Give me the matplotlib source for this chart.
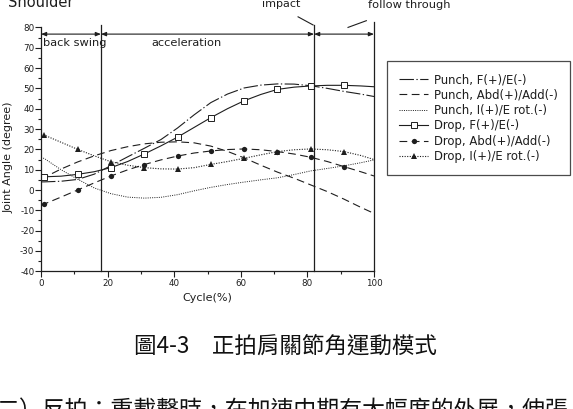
import matplotlib
matplotlib.use("Agg")
import matplotlib.pyplot as plt
from matplotlib.ticker import MultipleLocator

plt.rcParams['axes.unicode_minus'] = False
plt.rcParams['font.family'] = ['DejaVu Sans']

# cycle positions (%) where values were read; markers sit at 1, 11, ..., 91
cycle = [0, 1, 6, 11, 16, 21, 26, 31, 36, 41, 46, 51, 56, 61, 66, 71, 76, 81, 86, 91, 96, 100]

punch_fe = [4.0, 4.0, 4.3, 5.2, 7.8, 12.0, 16.3, 20.5, 24.8, 30.5, 37.0, 43.0, 47.2, 50.2, 51.6, 52.2,
            52.1, 51.3, 50.0, 48.5, 47.2, 46.0]
punch_abd = [5.5, 6.2, 10.3, 13.8, 16.8, 19.4, 21.3, 22.7, 23.5, 23.7, 23.2, 21.6, 19.0, 15.8, 12.2, 8.8,
             5.8, 2.5, -0.8, -4.5, -8.5, -11.5]
punch_ie = [16.0, 15.5, 10.0, 5.3, 1.0, -1.8, -3.5, -4.0, -3.6, -2.3, -0.4, 1.3, 2.7, 3.9, 5.0, 6.0,
            7.6, 9.4, 10.6, 11.9, 13.4, 14.8]
drop_fe = [6.0, 6.5, 6.8, 7.7, 9.0, 11.0, 14.0, 17.7, 21.7, 26.0, 30.8, 35.6, 40.0, 43.9, 47.0, 49.5,
           50.6, 51.2, 51.5, 51.5, 51.2, 50.8]
drop_abd = [-7.5, -6.9, -3.5, 0.0, 3.5, 6.9, 9.9, 12.5, 14.8, 16.7, 18.2, 19.2, 19.9, 20.2, 19.8, 18.9,
            17.7, 16.1, 14.0, 11.5, 9.0, 6.9]
drop_ie = [27.5, 27.0, 23.5, 20.0, 16.8, 13.9, 12.2, 11.0, 10.4, 10.3, 11.0, 12.6, 14.0, 15.6, 17.3, 18.9,
           19.8, 20.2, 19.8, 18.9, 17.0, 15.0]

labels = ["Punch, F(+)/E(-)", "Punch, Abd(+)/Add(-)", "Punch, I(+)/E rot.(-)",
          "Drop, F(+)/E(-)", "Drop, Abd(+)/Add(-)", "Drop, I(+)/E rot.(-)"]

phase_bounds = [0, 18, 82, 100]
phase_names = ["back swing", "acceleration"]
phase_text_x = [0.6, 33.2]

caption = "圖4-3　正拍肩關節角運動模式"
body_line = "二）反拍：重載擊時，在加速中期有大幅度的外展，伸張"

INK = '#1e1e1e'
LW = 0.8

fig = plt.figure(figsize=(5.73, 4.09), dpi=100)
ax = fig.add_axes([41 / 573, 1 - 271.3 / 409, 333 / 573, 243.9 / 409])

every = slice(1, 20, 2)
ax.plot(cycle, punch_fe, color=INK, lw=LW, dashes=(13, 2.2, 1.2, 2.2), label=labels[0])
ax.plot(cycle, punch_abd, color=INK, lw=LW, dashes=(7, 4), label=labels[1])
ax.plot(cycle, punch_ie, color=INK, lw=0.7, dashes=(1, 1.3), label=labels[2])
ax.plot(cycle, drop_fe, color=INK, lw=LW, marker='s', ms=3.8, mfc='white', mew=0.7,
        markevery=every, label=labels[3])
ax.plot(cycle, drop_abd, color=INK, lw=LW, dashes=(7, 4), marker='o', ms=3.8, mew=0,
        markevery=every, label=labels[4])
ax.plot(cycle, drop_ie, color=INK, lw=LW, dashes=(1, 1.3), marker='^', ms=5, mew=0,
        markevery=every, label=labels[5])

ax.set_xlim(0, 100)
ax.set_ylim(-40, 80)
ax.xaxis.set_major_locator(MultipleLocator(20))
ax.xaxis.set_minor_locator(MultipleLocator(10))
ax.yaxis.set_major_locator(MultipleLocator(10))
ax.yaxis.set_minor_locator(MultipleLocator(5))
ax.tick_params(which='major', length=4, width=0.8, labelsize=6.3, colors=INK, pad=1.5)
ax.tick_params(which='minor', length=2, width=0.8, colors=INK)
ax.tick_params(axis='y', pad=0.8)
for s in ['top', 'right']:
    ax.spines[s].set_visible(False)
for s in ['left', 'bottom']:
    ax.spines[s].set_color(INK)
    ax.spines[s].set_linewidth(0.9)
ax.patch.set_visible(False)

# phase boundaries and arrows
ax.plot([18, 18], [-40, 81.2], color=INK, lw=0.9, clip_on=False)
ax.plot([82, 82], [-40, 81.2], color=INK, lw=0.9, clip_on=False)
ax.plot([100, 100], [-40, 82.8], color=INK, lw=0.9, clip_on=False)
for a, b in zip(phase_bounds[:-1], phase_bounds[1:]):
    ax.annotate("", xy=(b, 76.7), xytext=(a, 76.7), annotation_clip=False,
                arrowprops=dict(arrowstyle='<|-|>,head_length=0.3,head_width=0.12',
                                color=INK, lw=0.8, shrinkA=0, shrinkB=0))
for name, tx in zip(phase_names, phase_text_x):
    ax.text(tx, 72.3, name, fontsize=8.2, color=INK, va='center', ha='left')

ax.plot([77.2, 81.7], [85.2, 81.2], color=INK, lw=0.8, clip_on=False)
ax.plot([92.2, 97.7], [80.0, 83.3], color=INK, lw=0.8, clip_on=False)

fig.text(262 / 573, 1 - 7 / 409, "impact", fontsize=8.0, color=INK, va='baseline', ha='left')
fig.text(368 / 573, 1 - 8 / 409, "follow through", fontsize=8.2, color=INK, va='baseline', ha='left')
fig.text(8 / 573, 1 - 7 / 409, "Shoulder", fontsize=10.5, color=INK, va='baseline', ha='left')

ax.set_xlabel("Cycle(%)", fontsize=8, color=INK, labelpad=4)
fig.text(8.7 / 573, 1 - 157 / 409, "Joint Angle (degree)", fontsize=8, color=INK,
         rotation=90, va='center', ha='center')

leg = ax.legend(loc='upper left', bbox_to_anchor=(387 / 573, 1 - 61 / 409),
                bbox_transform=fig.transFigure, fontsize=8.4, frameon=True, fancybox=False,
                borderpad=1.05, borderaxespad=0, labelspacing=0.2, handlelength=2.5,
                handletextpad=0.5, numpoints=1)
leg.get_frame().set_edgecolor(INK)
leg.get_frame().set_linewidth(0.9)
for t in leg.get_texts():
    t.set_color(INK)

cjk = ['Noto Sans CJK TC', 'DejaVu Sans']
fig.text(285 / 573, 1 - 346 / 409, caption, fontsize=16.2, family=cjk, color='#111111',
         ha='center', va='center')
fig.text(-3 / 573, 1 - 418 / 409, body_line, fontsize=16.5, family=cjk, color='#111111',
         ha='left', va='baseline')

fig.savefig("out.png", dpi=100)
